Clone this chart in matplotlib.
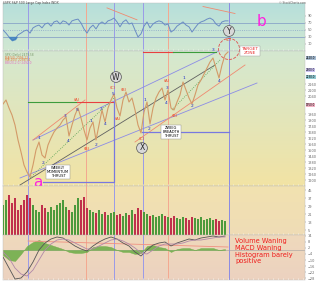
import numpy as np
import matplotlib
matplotlib.use("Agg")
import matplotlib.pyplot as plt
import matplotlib.colors as mcolors
from matplotlib.patches import Ellipse

# ---- data (one sample every 3 days) ----
close = [1960, 2000, 1920, 1850, 1750, 1600, 1480, 1350, 1280, 1230,
         1350, 1500, 1580, 1450, 1420, 1550, 1620, 1680, 1720, 1750,
         1800, 1830, 1640, 1750, 1850, 1920, 1820, 1700, 1600, 1720,
         1780, 1600, 1750, 1900, 1780, 1920, 2000, 2060, 1920, 1840,
         2000, 2080, 1980, 2020, 1900, 1750, 1670, 1880, 1980, 1760,
         1920, 2020, 2080, 2120, 2000, 2100, 1920, 1900, 1980, 2050,
         2180, 2100, 2020, 1960, 2050, 2150, 2200, 2260, 2320, 2380,
         2420, 2320, 2220, 2350, 2450, 2480]

volume = [30, 35, 40, 32, 37, 25, 30, 35, 40, 37,
          30, 25, 23, 30, 27, 23, 28, 25, 30, 32,
          35, 28, 25, 23, 30, 37, 35, 38, 27, 25,
          23, 22, 25, 21, 23, 20, 22, 23, 20, 21,
          19, 22, 20, 25, 21, 27, 25, 23, 21, 19,
          20, 18, 19, 21, 19, 18, 17, 19, 17, 16,
          18, 17, 15, 18, 17, 16, 18, 15, 16, 17,
          15, 16, 14, 15, 14]

rsi = [50, 41, 30, 21, 24, 36, 41, 47, 50, 41,
       56, 61, 64, 56, 67, 70, 61, 73, 76, 67,
       76, 73, 64, 76, 79, 81, 70, 53, 41, 56,
       64, 53, 67, 73, 67, 76, 79, 84, 73, 59,
       73, 79, 67, 70, 50, 30, 39, 61, 73, 56,
       67, 73, 76, 73, 64, 67, 44, 50, 61, 67,
       73, 64, 59, 44, 56, 67, 73, 76, 81, 84,
       79, 67, 61, 73, 76, 76]

# MACD sampled every 6 days
macd = [-7, -18, -29, -28, -22, -12, 0, 7, 11, 13,
        12, 8, 4, 1, -1, 4, 8, 11, 13, 11,
        7, 4, -2, -6, 0, 5, 7, 8, 4, 7,
        9, 11, 10, 12, 13, 14, 13, 14]
signal = [-2, -8, -18, -24, -26, -20, -10, 0, 6, 10,
          11, 10, 7, 4, 1, 1, 4, 7, 10, 11,
          9, 6, 2, -3, -4, 0, 4, 6, 6, 6,
          7, 9, 10, 10, 11, 12, 13, 13]

# wave counts: (label, day, price, colour)
wave_labels = [
    ("1", 36, 1620, "b"), ("2", 40, 1370, "b"), ("3", 62, 1840, "b"),
    ("4", 65, 1590, "b"), ("5", 74, 1900, "b"), ("(A)", 74, 2000, "r"),
    ("(B)", 84, 1510, "r"), ("1", 88, 1790, "b"), ("2", 93, 1550, "b"),
    ("3", 98, 1910, "b"), ("4", 102, 1760, "b"), ("5", 110, 2060, "b"),
    ("(C)", 110, 2120, "r"), ("(A)", 115, 1810, "r"), ("(B)", 121, 2100, "r"),
    ("(C)", 139, 1610, "r"), ("1", 142, 2000, "b"), ("2", 146, 1710, "b"),
    ("(A)", 164, 2190, "r"), ("3", 164, 2120, "b"), ("4", 163, 1970, "b"),
    ("(B)", 172, 1840, "r"), ("1", 181, 2220, "b"), ("2", 189, 1940, "b"),
    ("3", 210, 2500, "b"), ("4", 216, 2190, "b"), ("(C)", 226, 2600, "r"),
]
big_waves = [("W", 113, 2230), ("X", 139, 1520), ("Y", 226, 2690)]

# trend lines: ((day0, price0), (day1, price1), colour, style)
trend_lines = [
    ((30, 1600), (222, 2520), "#8c8ce6", "-"),
    ((17, 1220), (254, 2170), "#8c8ce6", "-"),
    ((30, 1600), (82, 2000), "#f08a70", "-"),
    ((132, 1580), (242, 2350), "#f08a70", "-"),
    ((17, 1150), (212, 2350), "#606060", "-"),
    ((27, 1220), (112, 2030), "#50a050", ":"),
    ((169, 1900), (217, 2400), "#50a050", ":"),
]

vlines = [(25, "#9a9ae8"), (83, "#f4a890"), (111, "#9a9ae8"),
          (140, "#9a9ae8"), (165, "#f4a890"), (226, "#8a8ae4")]

# price tags on the right edge: (price, colour)
tags = [(2420, "#a6bcd2"), (2300, "#cac2f2"), (2230, "#92cad2"),
        (1950, "#f2b2c4")]

days = np.arange(len(close)) * 3
vol_days = np.arange(len(volume)) * 3
macd_days = np.arange(len(macd)) * 6
hist = np.array(macd) - np.array(signal)


def gradient(ax, top, bottom):
    c1 = np.array(mcolors.to_rgb(top))
    c2 = np.array(mcolors.to_rgb(bottom))
    t = np.linspace(0, 1, 64)[:, None, None]
    img = c1 * (1 - t) + c2 * t
    ax.imshow(img, extent=[0, 1, 0, 1], transform=ax.transAxes,
              aspect="auto", zorder=0, interpolation="bilinear")


def style(ax):
    ax.yaxis.tick_right()
    ax.tick_params(axis="y", labelsize=2.5, length=1, width=0.3,
                   colors="#666666", pad=1)
    ax.tick_params(axis="x", direction="in", length=1.5, width=0.4,
                   colors="#ffffff", labelbottom=False)
    ax.set_xticks(np.arange(0, 302, 5))
    for s in ax.spines.values():
        s.set_linewidth(0.3)
        s.set_color("#bbbbbb")


fig = plt.figure(figsize=(3.2, 2.85), dpi=100)
L, W = 3 / 320, 302 / 320
ax_rsi = fig.add_axes([L, 1 - 51 / 285, W, 48 / 285])
ax = fig.add_axes([L, 1 - 186 / 285, W, 135 / 285])
ax_vol = fig.add_axes([L, 1 - 235 / 285, W, 49 / 285])
ax_macd = fig.add_axes([L, 1 - 280 / 285, W, 45 / 285])

# ---- RSI panel ----
gradient(ax_rsi, "#b6dfdb", "#d2e8d2")
ax_rsi.plot(days, rsi, color="#6a8cc4", lw=0.7, zorder=3)
r = np.array(rsi)
ax_rsi.fill_between(days, r, 30, where=r < 30, color="#3f7fc0", alpha=0.8,
                    interpolate=True, zorder=3)
for lvl, ls in [(70, "-"), (50, ":"), (30, "-")]:
    ax_rsi.axhline(lvl, color="#8aa4c8", lw=0.6, ls=ls, zorder=2)
ax_rsi.plot([104, 134], [113, 79], color="#f08a70", lw=0.6, zorder=3)
ax_rsi.plot([200, 232], [117, 97], color="#f08a70", lw=0.6, zorder=3)
ax_rsi.text(259, 73, "b", color="#ff20e0", fontsize=11, ha="center",
            va="center", zorder=6)
ax_rsi.set_ylim(-10, 127)
ax_rsi.set_yticks([10, 30, 50, 70, 90])

# ---- price panel ----
gradient(ax, "#d4e8d0", "#f2e3a4")
ax.plot(days, close, color="#d39a68", lw=0.8, zorder=3)
for (x0, y0), (x1, y1), c, ls in trend_lines:
    ax.plot([x0, x1], [y0, y1], color=c, lw=0.6, ls=ls, zorder=2)
ax.plot([25, 74], [1980, 1980], color="#3c9c3c", lw=0.8, zorder=2)
ax.plot([74, 111], [1980, 1980], color="#e84040", lw=0.8, zorder=2)
ax.plot([140, 170], [2480, 2480], color="#e84040", lw=0.8, zorder=2)
ax.plot([170, 213], [2480, 2480], color="#3c9c3c", lw=0.8, zorder=2)
ax.plot([40, 111, 111], [1180, 1180, 1980], color="#7878e0", lw=0.9, zorder=2)
ax.plot([139, 226], [1680, 1680], color="#7878e0", lw=0.9, zorder=2)

for a_ in (ax_rsi, ax, ax_vol, ax_macd):
    for d, c in vlines:
        a_.axvline(d, color=c, lw=0.7, zorder=1.5)

for txt, d, p, c in wave_labels:
    col = "#1c2cc8" if c == "b" else "#ec4a2a"
    ax.text(d, p, txt, color=col, fontsize=3.2, ha="center", va="center",
            zorder=6, clip_on=False)
for txt, d, p in big_waves:
    ax.text(d, p, txt, color="#222222", fontsize=5.5, ha="center",
            va="center", zorder=7, clip_on=False,
            bbox=dict(boxstyle="circle,pad=0.12", fc="#d8d8d8", ec="#555555",
                      lw=0.5))

ax.add_patch(Ellipse((226, 2510), 21, 210, fill=False, ec="#e05050",
                     lw=0.6, ls="--", zorder=5, clip_on=False))
ax.text(247, 2490, "TARGET\nZONE", color="#e83030", fontsize=3.2,
        ha="center", va="center", zorder=7, clip_on=False, linespacing=1.1,
        bbox=dict(boxstyle="square,pad=0.3", fc="white", ec="#999999",
                  lw=0.3))
box = dict(boxstyle="square,pad=0.3", fc="white", ec="#888888", lw=0.3)
ax.text(55, 1280, "WEEKLY\nMOMENTUM\nTHRUST", fontsize=2.6, ha="center",
        va="center", zorder=7, linespacing=1.1, bbox=box)
ax.text(168, 1680, "ZWEIG\nBREADTH\nTHRUST", fontsize=2.6, ha="center",
        va="center", zorder=7, linespacing=1.1, bbox=box)
ax.text(35, 1175, "a", color="#ff20e0", fontsize=11, ha="center",
        va="center", zorder=7, clip_on=False)

legend_lines = [("SPX (Daily) 2479.58", "#7a9a6a"),
                ("MA(50) 2396.12", "#e07a40"),
                ("MA(200) 2288.54", "#e07a40"),
                ("BB(20,2.0) 2492.0", "#e070c0")]
for i, (t, c) in enumerate(legend_lines):
    ax.text(0.005, 0.985 - i * 0.02, t, color=c, fontsize=2.1,
            transform=ax.transAxes, va="top", zorder=7)

for p, c in tags:
    ax.text(1.003, p, f"{p:.1f}", fontsize=2.0, va="center", zorder=7,
            transform=ax.get_yaxis_transform(), clip_on=False,
            bbox=dict(boxstyle="square,pad=0.1", fc=c, ec="none"))
ax.set_ylim(1140, 2490)
yt = [v for v in range(1200, 2500, 60)
      if min(abs(v - p) for p, _ in tags) > 40]
ax.set_yticks(yt)

# ---- volume panel ----
gradient(ax_vol, "#f2e2b0", "#efdcb6")
vol_col = ["#4c9a3c" if i == 0 or close[i] >= close[i - 1] else "#c0304c"
           for i in range(len(volume))]
ax_vol.bar(vol_days, volume, width=2.0, color=vol_col, zorder=3)
ax_vol.axhline(0.5, color="#a09070", lw=0.6, zorder=4)
ax_vol.set_ylim(0, 49)
ax_vol.set_yticks(np.arange(5, 46, 8))

# ---- MACD panel ----
gradient(ax_macd, "#efd9bc", "#ecd2c0")
ax_macd.axhline(0, color="#a0a0a0", lw=0.4, zorder=2)
ax_macd.fill_between(macd_days, hist, 0, color="#6aac44", alpha=0.85,
                     lw=0.3, zorder=3)
ax_macd.plot([25, 225], [9, 3], color="#f09080", lw=0.6, zorder=3)
ax_macd.plot(macd_days, macd, color="#555555", lw=0.6, zorder=4)
ax_macd.plot(macd_days, signal, color="#b088a8", lw=0.6, zorder=4)
ax_macd.text(232, 12, "Volume Waning\nMACD Waning\nHistogram barely\npositive",
             color="#ee1c1c", fontsize=4.8, va="top", ha="left",
             linespacing=1.15, zorder=6)
ax_macd.set_ylim(-30, 15)
ax_macd.set_yticks(np.arange(-28, 15, 6))

for a_ in (ax_rsi, ax, ax_vol, ax_macd):
    style(a_)
    a_.set_xlim(0, 302)

fig.text(0.01, 0.995, "$SPX S&P 500 Large Cap Index INDX", fontsize=2.2,
         color="#444444", va="top")
fig.text(0.955, 0.995, "© StockCharts.com", fontsize=2.0, color="#666666",
         va="top", ha="right")

fig.savefig("out.png", dpi=100)
